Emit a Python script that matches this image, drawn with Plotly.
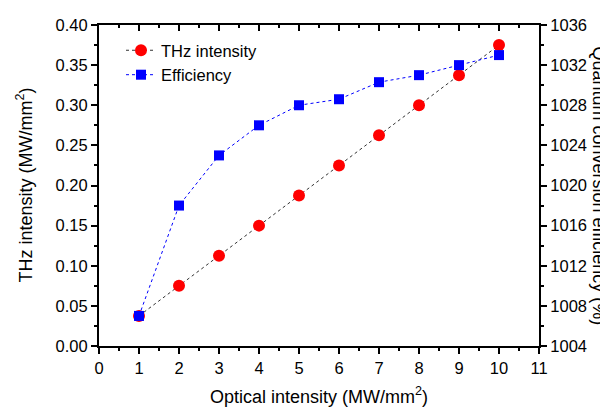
import plotly.graph_objects as go

optical = [1, 2, 3, 4, 5, 6, 7, 8, 9, 10]
thz_intensity = [0.0375, 0.075, 0.1125, 0.15, 0.1875, 0.225, 0.2625, 0.30, 0.3375, 0.375]
efficiency = [1007, 1018, 1023, 1026, 1028, 1028.6, 1030.3, 1031, 1032, 1033]

font_family = "Liberation Sans, Arial, sans-serif"
title_font = dict(size=18, family=font_family, color="black")

fig = go.Figure()
fig.add_trace(go.Scatter(
    x=optical, y=thz_intensity, name="THz intensity", mode="lines+markers",
    line=dict(color="#333333", width=1, dash="dot"),
    marker=dict(symbol="circle", size=12, color="#ff0000"),
    xaxis="x", yaxis="y"))
fig.add_trace(go.Scatter(
    x=optical, y=efficiency, name="Efficiency", mode="lines+markers",
    line=dict(color="#0000ff", width=1, dash="dot"),
    marker=dict(symbol="square", size=10, color="#0000ff"),
    xaxis="x", yaxis="y2"))
# invisible trace to anchor the top mirror axis
fig.add_trace(go.Scatter(x=[None], y=[None], xaxis="x2", yaxis="y",
                         showlegend=False, hoverinfo="skip"))

axis_common = dict(showline=True, linecolor="black", linewidth=2,
                   showgrid=False, zeroline=False, ticklen=6, tickwidth=1.5,
                   tickcolor="black", automargin=False,
                   tickfont=dict(family=font_family, size=16.5, color="black"))
minor_out = dict(ticks="outside", ticklen=3, tickwidth=1.5, tickcolor="black")
minor_in = dict(ticks="inside", ticklen=3, tickwidth=1.5, tickcolor="black")

fig.update_layout(
    width=608, height=410,
    margin=dict(l=91, r=77, t=17, b=72),
    paper_bgcolor="white", plot_bgcolor="white",
    font=dict(family=font_family, size=16, color="black"),
    showlegend=True,
    legend=dict(x=0.05, y=0.975, xanchor="left", yanchor="top",
                bgcolor="rgba(0,0,0,0)", font=dict(size=16.5, family=font_family),
                tracegroupgap=0, itemwidth=30),
    xaxis=dict(range=[0, 11], dtick=1, ticks="outside",
               minor=dict(dtick=0.5, **minor_out), **axis_common),
    xaxis2=dict(range=[0, 11], dtick=1, ticks="inside", overlaying="x", side="top",
                anchor="y", showticklabels=False,
                minor=dict(dtick=0.5, **minor_in), **axis_common),
    yaxis=dict(range=[0, 0.40], dtick=0.05, tickformat=".2f", ticks="outside",
               minor=dict(dtick=0.025, **minor_out), **axis_common),
    yaxis2=dict(range=[1004, 1036], dtick=4, ticks="outside", overlaying="y", side="right",
                anchor="x", minor=dict(dtick=2, **minor_out), **axis_common),
    annotations=[
        dict(text="Optical intensity (MW/mm<sup>2</sup>)",
             xref="paper", yref="paper", x=0.5, y=0, yshift=-36,
             showarrow=False, font=title_font, xanchor="center", yanchor="top"),
        dict(text="THz intensity (MW/mm<sup>2</sup>)", textangle=-90,
             xref="paper", yref="paper", x=0, y=0.5, xshift=-74,
             showarrow=False, font=title_font, xanchor="center", yanchor="middle"),
        dict(text="Quantum conversion efficiency (%)", textangle=90,
             xref="paper", yref="paper", x=1.0, y=0.5, xshift=60,
             showarrow=False, font=title_font, xanchor="center", yanchor="middle"),
    ],
)

fig.write_html("out.html")
